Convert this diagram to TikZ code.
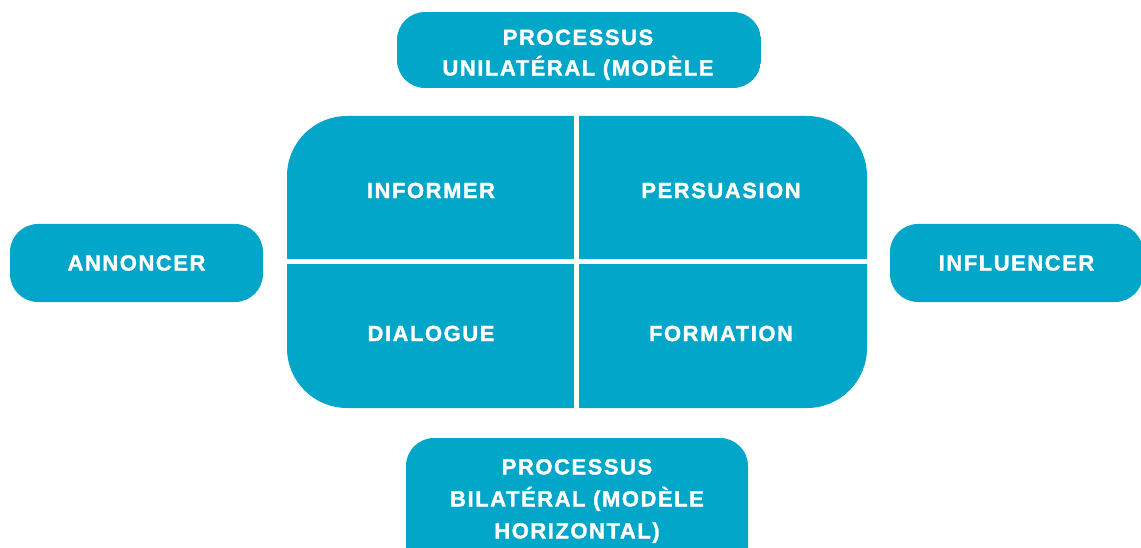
\documentclass[tikz,border=0pt]{standalone}
\usepackage{fontspec}
\setmainfont{Liberation Sans}
\definecolor{boxblue}{RGB}{2,166,200}
\newcommand{\lblfont}[1]{\bfseries\fontsize{22}{#1}\selectfont\addfontfeature{LetterSpace=7,FakeBold=1.4}}
\begin{document}
\begin{tikzpicture}[x=1pt,y=-1pt,
  box/.style={fill=boxblue, draw=none, rounded corners=28pt, inner sep=0pt},
  lbl/.style={text=white, font=\lblfont{30.5}, align=center, inner sep=0pt}]
\useasboundingbox (0,0) rectangle (1141,548);
% top box (text overflows and is clipped)
\begin{scope}
  \clip[rounded corners=28pt] (397,12) rectangle (761,88);
  \fill[boxblue] (397,12) rectangle (761,88);
  \node[lbl] (top) at (578,70) {PROCESSUS\\UNILATÉRAL (MODÈLE\\VERTICAL)};
\end{scope}
% bottom box
\fill[boxblue, rounded corners=28pt] (406,438) rectangle (748,580);
\node[lbl, font=\lblfont{32}] (bottom) at (577,501) {PROCESSUS\\BILATÉRAL (MODÈLE\\HORIZONTAL)};
% side boxes
\node[box, lbl, minimum width=253pt, minimum height=78pt] (annoncer) at (136.5,263) {ANNONCER};
\node[box, lbl, minimum width=253pt, minimum height=78pt] (influencer) at (1016.5,263) {INFLUENCER};
% central block
\fill[boxblue, rounded corners=60pt] (287,116) rectangle (867,408);
\draw[white, line width=5pt] (576.5,110) -- (576.5,414);
\draw[white, line width=5pt] (280,261.5) -- (874,261.5);
\node[lbl] (informer) at (431,190.5) {INFORMER};
\node[lbl] (persuasion) at (721,190.5) {PERSUASION};
\node[lbl] (dialogue) at (431,333.5) {DIALOGUE};
\node[lbl] (formation) at (721,333.5) {FORMATION};
\end{tikzpicture}
\end{document}
